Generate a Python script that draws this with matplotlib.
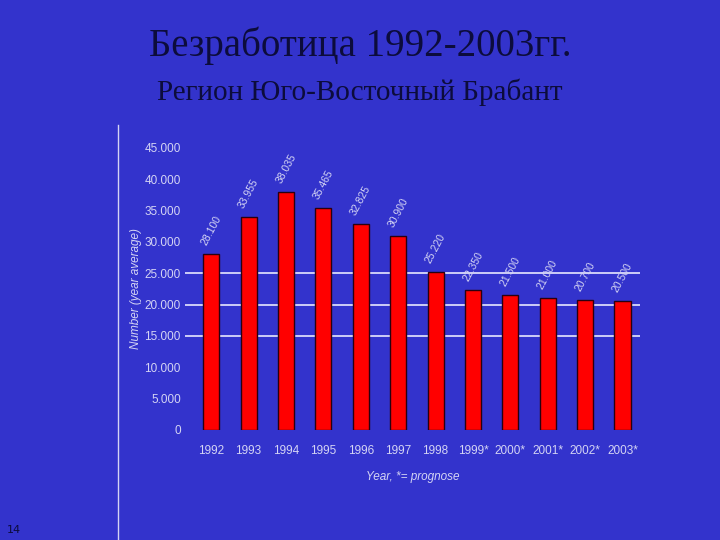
import numpy as np
import matplotlib.pyplot as plt
from matplotlib.lines import Line2D

years = ['1992', '1993', '1994', '1995', '1996', '1997', '1998',
         '1999*', '2000*', '2001*', '2002*', '2003*']
unemployed = [28100, 33955, 38035, 35465, 32825, 30900, 25220,
              22350, 21500, 21000, 20700, 20500]
value_labels = ['28.100', '33.955', '38.035', '35.465', '32.825', '30.900',
                '25.220', '22.350', '21.500', '21.000', '20.700', '20.500']
y_ticks = [0, 5000, 10000, 15000, 20000, 25000, 30000, 35000, 40000, 45000]
y_ticklabels = ['0', '5.000', '10.000', '15.000', '20.000', '25.000',
                '30.000', '35.000', '40.000', '45.000']
grid_levels = [15000, 20000, 25000]

BG = '#3333cc'
TXT = '#d4d4f4'
DARK = '#0c0c3c'
SANS = ['Liberation Sans', 'DejaVu Sans']

fig = plt.figure(figsize=(7.2, 5.4), dpi=100, facecolor=BG)
ax = fig.add_axes([0.257, 0.204, 0.632, 0.522])
ax.set_facecolor(BG)

x = np.arange(len(years))
for g in grid_levels:
    ax.axhline(g, color='#e8e8ff', linewidth=1.2, zorder=1)

ax.bar(x, unemployed, width=0.43, color='#ff0000', edgecolor='#2a0010',
       linewidth=1.0, zorder=2)

for xi, v, lab in zip(x, unemployed, value_labels):
    ax.text(xi - 0.2, v + 1500, lab, rotation=62, rotation_mode='anchor',
            ha='left', va='center', color=TXT, fontsize=7.5,
            family=SANS, clip_on=False)

ax.set_xlim(-0.7, 11.47)
ax.set_ylim(0, 45000)
ax.set_yticks(y_ticks)
ax.set_yticklabels(y_ticklabels, family=SANS, fontsize=8.5, color=TXT)
ax.set_xticks(x)
ax.set_xticklabels(years, family=SANS, fontsize=8.5, color=TXT)
ax.tick_params(axis='both', length=0)
ax.tick_params(axis='y', pad=3)
ax.tick_params(axis='x', pad=11)
for s in ax.spines.values():
    s.set_visible(False)

ax.set_ylabel('Number (year average)', family=SANS, fontsize=8.5,
              color=TXT, style='italic', labelpad=2)
ax.set_xlabel('Year, *= prognose', family=SANS, fontsize=8.5,
              color=TXT, style='italic', labelpad=10)

fig.add_artist(Line2D([118 / 720, 118 / 720], [1 - 125 / 540, 0.0],
                      color=TXT, linewidth=1.0))

fig.text(0.5, 1 - 46 / 540, 'Безработица 1992-2003гг.', ha='center',
         va='center', family='Liberation Serif', fontsize=28, color=DARK)
fig.text(0.5, 1 - 92 / 540, 'Регион Юго-Восточный Брабант', ha='center',
         va='center', family='Liberation Serif', fontsize=21, color=DARK)
fig.text(14 / 720, 1 - 530 / 540, '14', ha='center', va='center',
         fontsize=8, color=DARK)

fig.savefig('out.png', dpi=100, facecolor=BG)
